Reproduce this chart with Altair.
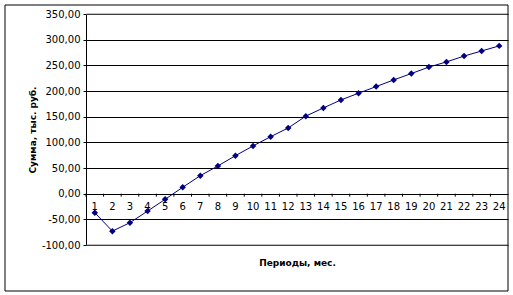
import altair as alt
import pandas as pd

periods = list(range(1, 25))
values = [-37, -73, -56.5, -34, -11, 12.5, 35, 54, 74, 93,
          111, 128, 151, 167, 182.6, 195.7, 208.6, 221.6, 234, 246.6,
          256.7, 268, 278, 287.9]
y_ticks = [-100, -50, 0, 50, 100, 150, 200, 250, 300, 350]

df = pd.DataFrame({"period": periods, "value": values})
edges = pd.DataFrame({"value": [y_ticks[0], y_ticks[-1]]})

W, H = 422, 231
FONT = "DejaVu Sans"
navy = "#000080"
y0_px = H * 350 / 450

xscale = alt.Scale(domain=periods, paddingInner=0, paddingOuter=0)
yscale = alt.Scale(domain=[-100, 350], nice=False, zero=False)

label_expr = "replace(replace(format(datum.value, '.2f'), '.', ','), '\u2212', '-')"

xaxis = alt.Axis(title="Периоды, мес.", labelAngle=0, domain=False, ticks=False,
                 labelFont=FONT, labelFontSize=10, labelColor="black",
                 labelPadding=8, offset=-(H - y0_px), grid=False,
                 titleFont=FONT, titleFontSize=9, titleFontWeight="bold",
                 titleColor="black", titleY=72, titleBaseline="alphabetic")
yaxis = alt.Axis(title="Сумма, тыс. руб.", values=y_ticks, tickCount=10, labelExpr=label_expr,
                 labelOverlap=False,
                 labelFont=FONT, labelFontSize=10, labelColor="black",
                 tickSize=3, tickColor="black", domainColor="black", labelPadding=3,
                 grid=True, gridColor="black", gridOpacity=1,
                 titleFont=FONT, titleFontSize=9, titleFontWeight="bold",
                 titleColor="black", titleX=-54, titleY=H / 2, titleAngle=-90,
                 titleAlign="center", titleBaseline="middle")

X = alt.X("period:O", scale=xscale, axis=xaxis)
Y = alt.Y("value:Q", scale=yscale, axis=yaxis)

base = alt.Chart(df)

line = base.mark_line(color=navy, strokeWidth=1).encode(x=X, y=Y)

points = base.mark_point(shape="diamond", filled=True, color=navy, size=42, opacity=1).encode(x=X, y=Y)

ticks = base.mark_rule(color="black", strokeWidth=1).encode(
    x=alt.X("period:O", scale=xscale, axis=xaxis, bandPosition=0),
    y=alt.value(y0_px),
    y2=alt.value(y0_px + 3),
)

edge_rules = alt.Chart(edges).mark_rule(color="#808080", strokeWidth=1.2).encode(
    y=alt.Y("value:Q", scale=yscale, axis=yaxis),
    x=alt.value(0.5), x2=alt.value(W),
)

frame = alt.Chart(pd.DataFrame({"a": [0]})).mark_rect(
    fill=None, stroke="black", strokeWidth=1).encode(
    x=alt.value(-81), x2=alt.value(422), y=alt.value(-9), y2=alt.value(277))

chart = alt.layer(edge_rules, line, points, ticks, frame).properties(
    width=W, height=H,
    autosize=alt.AutoSizeParams(type="none"),
    padding={"left": 86, "top": 14, "right": 5, "bottom": 50},
    background="white",
).configure_view(stroke=None)

chart.save("out.html", embed_options={"renderer": "svg", "actions": False})
